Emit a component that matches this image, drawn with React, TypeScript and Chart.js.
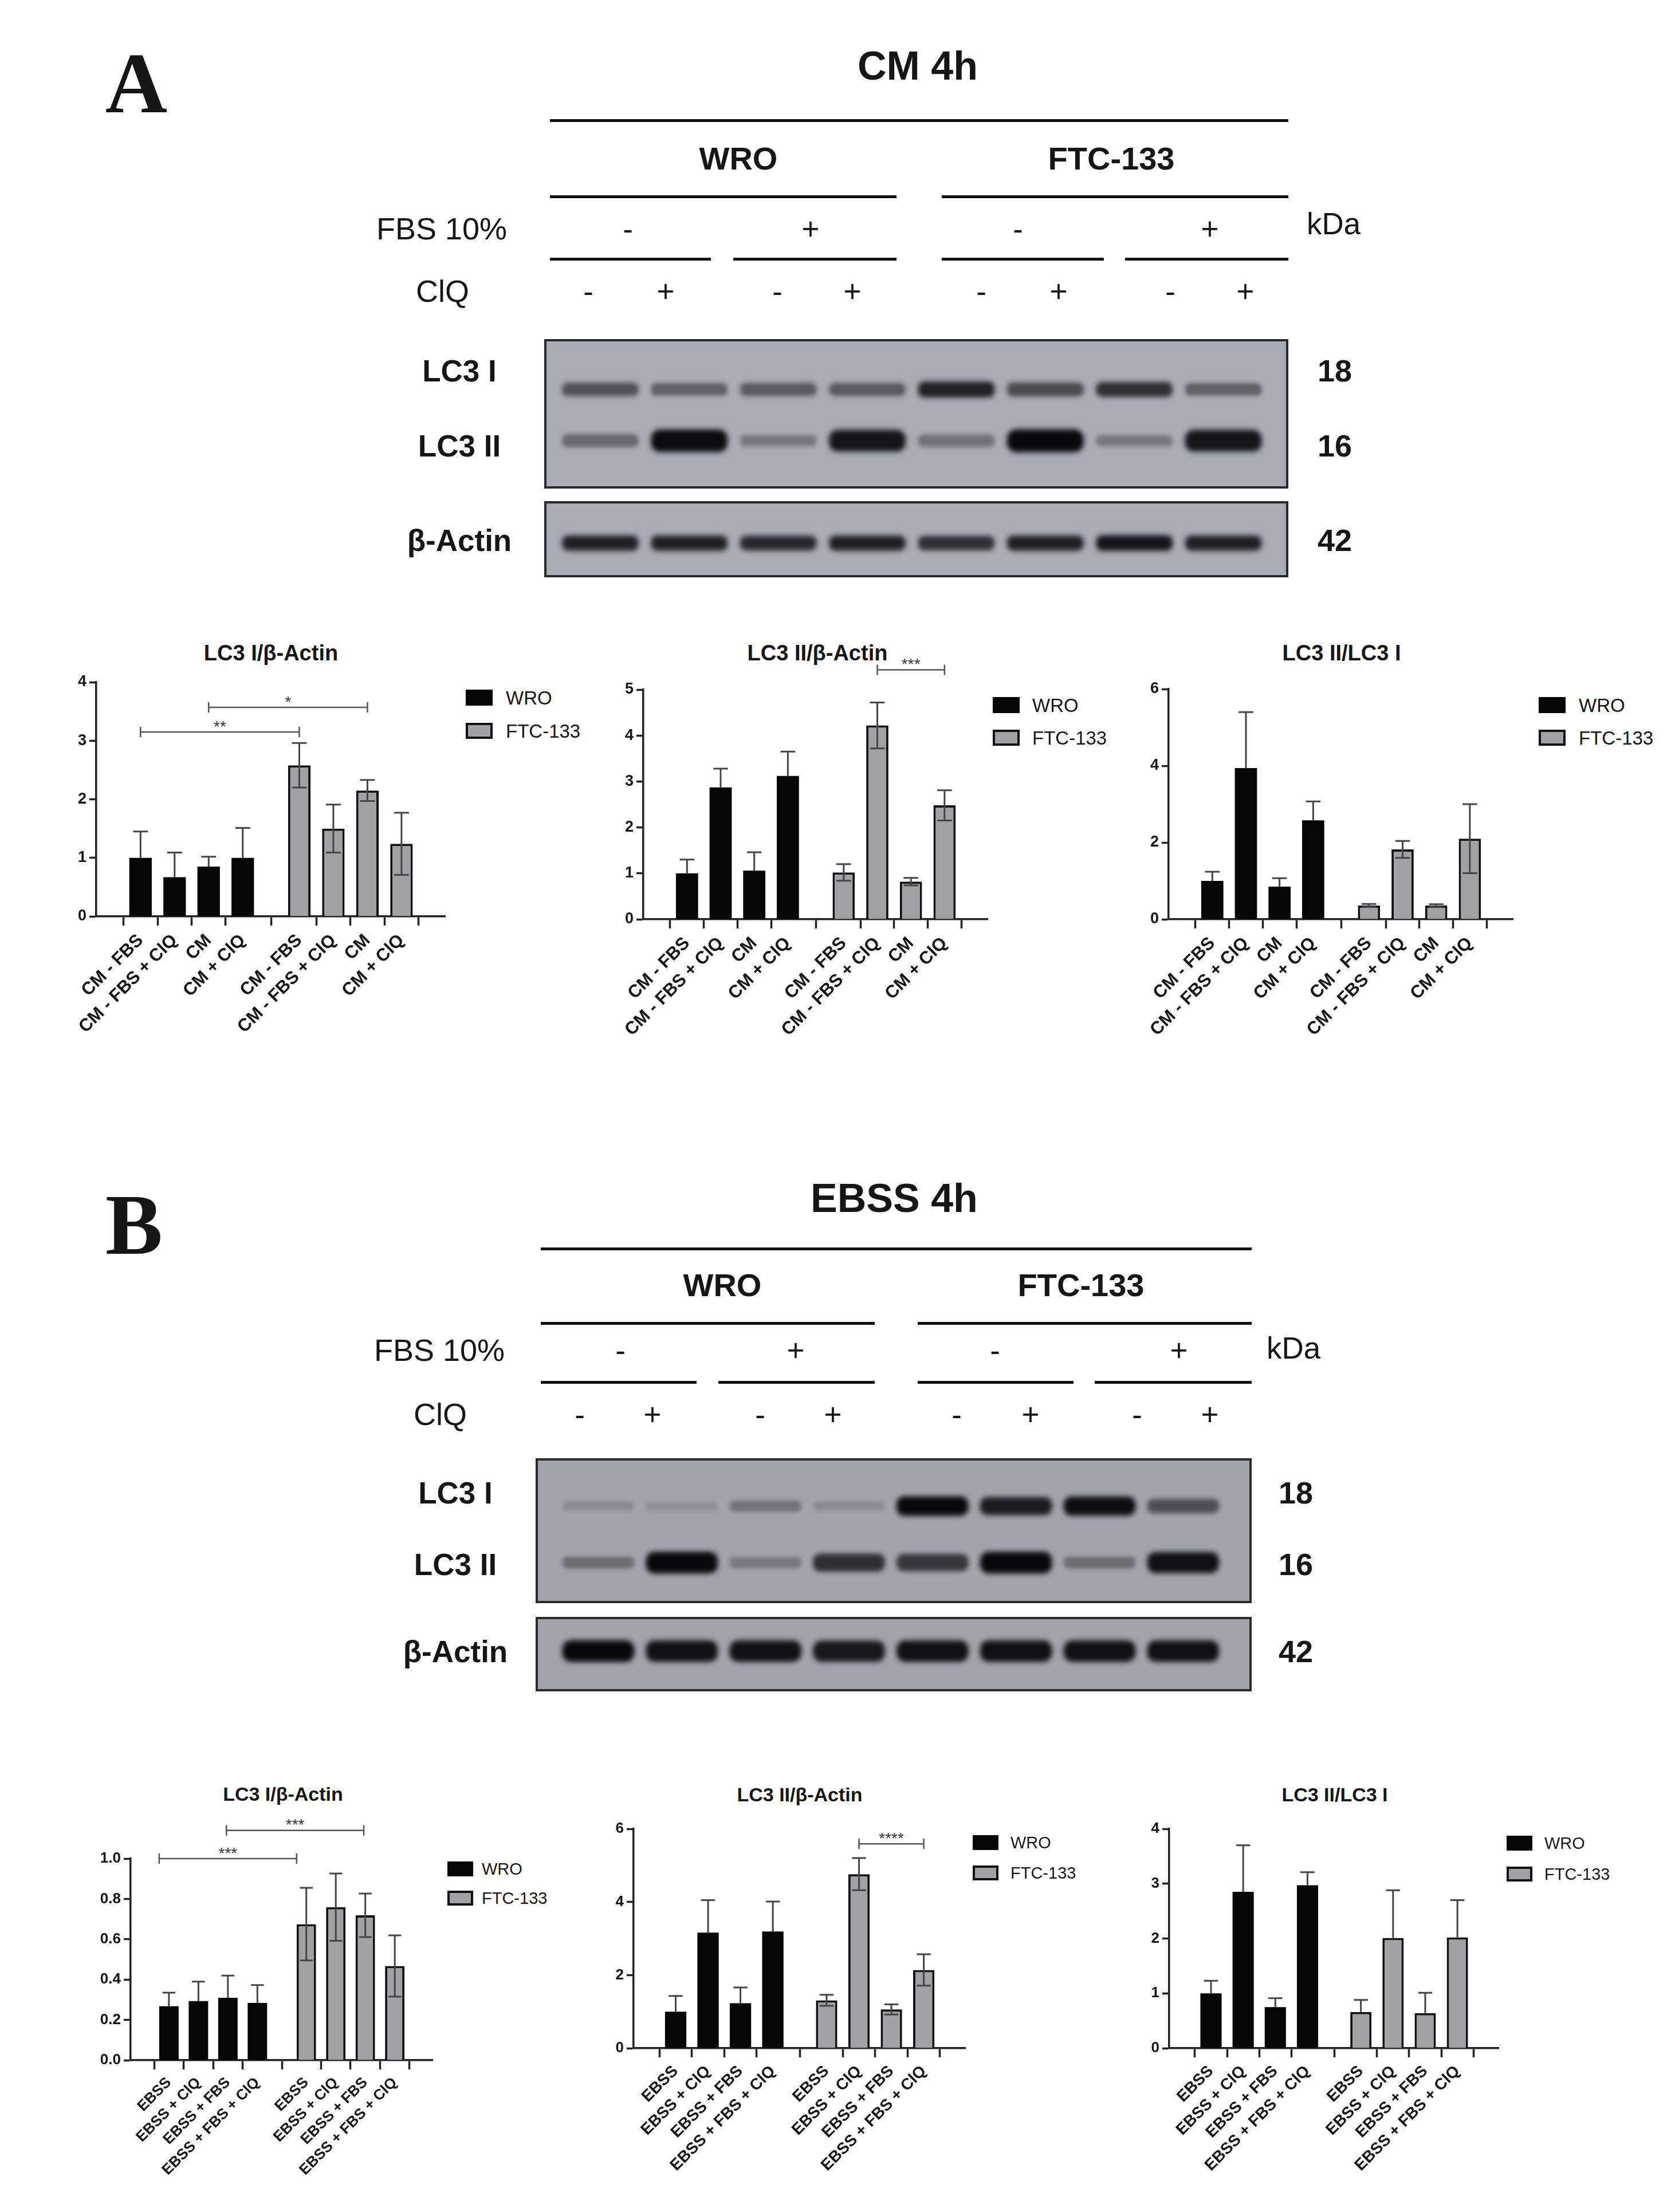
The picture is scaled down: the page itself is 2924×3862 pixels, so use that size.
import { useEffect, useRef } from 'react';
import { Chart, registerables } from 'chart.js';

Chart.register(...registerables);

const SANS = '"Liberation Sans", Arial, sans-serif';
const INK = '#161616';

// ---- text of the blot headers ----
const CELL_LINES = ['WRO', 'FTC-133'];
const FBS_SIGNS = ['-', '+', '-', '+'];
const CLQ_SIGNS = ['-', '+', '-', '+', '-', '+', '-', '+'];
const ROW_LABELS = ['LC3 I', 'LC3 II', 'β-Actin'];
const KDA_MARKS = ['18', '16', '42'];

// ---- band intensities (0 = nothing, 1 = saturated), one value per lane ----
const A_LC3I = [0.55, 0.45, 0.5, 0.5, 0.85, 0.6, 0.75, 0.45];
const A_LC3II = [0.4, 0.98, 0.3, 0.92, 0.35, 1.0, 0.3, 0.92];
const A_ACTIN = [0.85, 0.85, 0.8, 0.85, 0.75, 0.85, 0.92, 0.85];
const B_LC3I = [0.15, 0.12, 0.3, 0.15, 1.0, 0.88, 0.97, 0.55];
const B_LC3II = [0.35, 1.0, 0.28, 0.75, 0.7, 1.0, 0.35, 0.95];
const B_ACTIN = [1.0, 0.95, 0.95, 0.9, 0.95, 0.95, 0.95, 0.95];

// ---- bar chart categories ----
const CM_LABELS = ['CM - FBS', 'CM - FBS + ClQ', 'CM', 'CM + ClQ', 'CM - FBS', 'CM - FBS + ClQ', 'CM', 'CM + ClQ'];
const EBSS_LABELS = ['EBSS', 'EBSS + ClQ', 'EBSS + FBS', 'EBSS + FBS + ClQ', 'EBSS', 'EBSS + ClQ', 'EBSS + FBS', 'EBSS + FBS + ClQ'];

// ---- A: CM 4h ----
const A1_WRO = [1.0, 0.67, 0.85, 1.0];
const A1_WRO_SD = [0.45, 0.42, 0.17, 0.51];
const A1_FTC = [2.58, 1.5, 2.15, 1.24];
const A1_FTC_SD = [0.38, 0.41, 0.18, 0.53];

const A2_WRO = [1.0, 2.87, 1.06, 3.12];
const A2_WRO_SD = [0.3, 0.41, 0.4, 0.53];
const A2_FTC = [1.02, 4.22, 0.82, 2.48];
const A2_FTC_SD = [0.18, 0.5, 0.08, 0.33];

const A3_WRO = [1.0, 3.94, 0.85, 2.58];
const A3_WRO_SD = [0.24, 1.46, 0.22, 0.49];
const A3_FTC = [0.36, 1.82, 0.36, 2.1];
const A3_FTC_SD = [0.04, 0.22, 0.03, 0.9];

// ---- B: EBSS 4h ----
const B1_WRO = [0.268, 0.293, 0.31, 0.284];
const B1_WRO_SD = [0.067, 0.097, 0.11, 0.089];
const B1_FTC = [0.675, 0.759, 0.719, 0.467];
const B1_FTC_SD = [0.18, 0.167, 0.108, 0.152];

const B2_WRO = [1.0, 3.16, 1.23, 3.19];
const B2_WRO_SD = [0.43, 0.89, 0.43, 0.82];
const B2_FTC = [1.31, 4.76, 1.06, 2.14];
const B2_FTC_SD = [0.15, 0.44, 0.14, 0.43];

const B3_WRO = [1.0, 2.85, 0.75, 2.97];
const B3_WRO_SD = [0.23, 0.85, 0.16, 0.24];
const B3_FTC = [0.66, 2.01, 0.64, 2.02];
const B3_FTC_SD = [0.22, 0.87, 0.37, 0.68];

// significance brackets: bar index a -> bar index b at value y
const A1_SIG = [
  { a: 0, b: 4, y: 3.15, text: '**', dx: 0 },
  { a: 2, b: 6, y: 3.57, text: '*', dx: 0 },
];
const A2_SIG = [{ a: 5, b: 7, y: 5.43, text: '***', dx: 0 }];
const B1_SIG = [
  { a: 0, b: 4, y: 1.0, text: '***', dx: -0.33 },
  { a: 2, b: 6, y: 1.14, text: '***', dx: -0.05 },
];
const B2_SIG = [{ a: 5, b: 7, y: 5.59, text: '****', dx: 0 }];

const GROUP_GAP = 0.66;
const pos = (i: number) => i + (i >= 4 ? GROUP_GAP : 0);

function Txt({ x, y, size, bold, anchor = 'center', serif, children }: any) {
  const tx = anchor === 'center' ? '-50%' : anchor === 'right' ? '-100%' : '0';
  return (
    <div
      style={{
        position: 'absolute',
        left: x,
        top: y,
        transform: `translate(${tx}, -50%)`,
        fontFamily: serif ? '"Liberation Serif", "Times New Roman", serif' : SANS,
        fontSize: size,
        fontWeight: bold ? 700 : 400,
        lineHeight: 1,
        whiteSpace: 'nowrap',
        color: INK,
      }}
    >
      {children}
    </div>
  );
}

function Rule({ x1, x2, y }: { x1: number; x2: number; y: number }) {
  return <div style={{ position: 'absolute', left: x1, top: y - 2.5, width: x2 - x1, height: 5, background: '#111' }} />;
}

function Header({ g }: { g: any }) {
  return (
    <>
      <Txt x={g.letterX} y={g.letterY} size={150} bold serif>{g.letter}</Txt>
      <Txt x={g.titleX} y={g.titleY} size={70} bold>{g.title}</Txt>
      <Rule x1={g.line1[0]} x2={g.line1[1]} y={g.line1Y} />
      {CELL_LINES.map((c, i) => (
        <Txt key={c} x={g.cellX[i]} y={g.cellY} size={56} bold>{c}</Txt>
      ))}
      {g.line2.map((l: number[], i: number) => <Rule key={'l2' + i} x1={l[0]} x2={l[1]} y={g.line2Y} />)}
      <Txt x={g.fbsRight} y={g.fbsY} size={54} anchor="right">FBS 10%</Txt>
      {FBS_SIGNS.map((s, i) => (
        <Txt key={'f' + i} x={g.fbsX[i]} y={g.fbsY} size={53}>{s}</Txt>
      ))}
      <Txt x={g.kdaX} y={g.kdaY} size={53} anchor="left">kDa</Txt>
      {g.line3.map((l: number[], i: number) => <Rule key={'l3' + i} x1={l[0]} x2={l[1]} y={g.line3Y} />)}
      <Txt x={g.clqRight} y={g.clqY} size={54} anchor="right">ClQ</Txt>
      {CLQ_SIGNS.map((s, i) => (
        <Txt key={'c' + i} x={g.clqX[i]} y={g.clqY} size={53}>{s}</Txt>
      ))}
      {ROW_LABELS.map((r, i) => (
        <Txt key={r} x={g.rowLabelX} y={g.rowY[i]} size={53} bold>{r}</Txt>
      ))}
      {KDA_MARKS.map((k, i) => (
        <Txt key={k} x={g.kdaNumX} y={g.rowY[i]} size={54} bold>{k}</Txt>
      ))}
    </>
  );
}

interface BandRow {
  values: number[];
  y: number;
  base: number;
  grow: number;
}

function Blot({ box, rows, xMin, xMax, bg }: { box: any; rows: BandRow[]; xMin: number; xMax: number; bg: string }) {
  const ref = useRef<HTMLCanvasElement>(null);
  const w = box.right - box.left;
  const h = box.bottom - box.top;

  useEffect(() => {
    if (!ref.current) return;
    const ctx = ref.current.getContext('2d');
    if (!ctx) return;

    const bands = {
      id: 'bands',
      beforeDatasetsDraw(chart: any) {
        const c = chart.ctx;
        c.save();
        c.fillStyle = bg;
        c.fillRect(0, 0, chart.width, chart.height);
        const xs = chart.scales.x;
        const lane = xs.getPixelForValue(1) - xs.getPixelForValue(0);
        rows.forEach((r, d) => {
          chart.getDatasetMeta(d).data.forEach((pt: any, i: number) => {
            const v = r.values[i];
            const bw = lane * 0.86;
            const bh = r.base + r.grow * v;
            c.filter = `blur(${3 + 2 * v}px)`;
            c.fillStyle = `rgba(8,8,12,${Math.min(1, v)})`;
            c.beginPath();
            if (c.roundRect) c.roundRect(pt.x - bw / 2, pt.y - bh / 2, bw, bh, bh / 2.5);
            else c.ellipse(pt.x, pt.y, bw / 2, bh / 2, 0, 0, Math.PI * 2);
            c.fill();
          });
        });
        c.restore();
      },
      afterDraw(chart: any) {
        const c = chart.ctx;
        c.save();
        c.strokeStyle = '#2a2a2a';
        c.lineWidth = 4;
        c.strokeRect(2, 2, chart.width - 4, chart.height - 4);
        c.restore();
      },
    };

    const chart = new Chart(ctx, {
      type: 'scatter',
      data: {
        datasets: rows.map((r) => ({
          data: r.values.map((_, i) => ({ x: i, y: r.y })),
          pointRadius: 0,
        })),
      },
      options: {
        animation: false,
        responsive: false,
        devicePixelRatio: 1,
        events: [],
        layout: { padding: 0 },
        plugins: { legend: { display: false }, tooltip: { enabled: false } },
        scales: {
          x: { type: 'linear', display: false, min: xMin, max: xMax },
          y: { display: false, min: 0, max: 1, reverse: true },
        },
      },
      plugins: [bands],
    } as any);

    return () => chart.destroy();
  }, []);

  return (
    <canvas
      ref={ref}
      width={w}
      height={h}
      style={{ position: 'absolute', left: box.left, top: box.top, width: w, height: h }}
    />
  );
}

interface BarPanelProps {
  title: string;
  labels: string[];
  wro: number[];
  wroSd: number[];
  ftc: number[];
  ftcSd: number[];
  yMax: number;
  yStep: number;
  decimals?: number;
  brackets?: { a: number; b: number; y: number; text: string; dx: number }[];
  ftcLower?: boolean;
  plot: { left: number; right: number; top: number; bottom: number };
  titlePos: [number, number];
  legend: { boxX: number; textX: number; y1: number; y2: number };
  sizes: { title: number; tick: number; label: number; legend: number; box: [number, number] };
}

function BarPanel(p: BarPanelProps) {
  const ref = useRef<HTMLCanvasElement>(null);
  const Y_AXIS_W = 110;
  const PAD_TOP = 90;
  const PAD_RIGHT = 20;
  const X_AXIS_H = 270;
  const w = p.plot.right - p.plot.left + Y_AXIS_W + PAD_RIGHT;
  const h = p.plot.bottom - p.plot.top + PAD_TOP + X_AXIS_H;

  useEffect(() => {
    if (!ref.current) return;
    const ctx = ref.current.getContext('2d');
    if (!ctx) return;

    const xs = p.labels.map((_, i) => pos(i));
    const series = [
      { mean: p.wro, sd: p.wroSd, lower: false },
      { mean: p.ftc, sd: p.ftcSd, lower: p.ftcLower !== false },
    ];

    const overlay = {
      id: 'overlay',
      afterDatasetsDraw(chart: any) {
        const c = chart.ctx;
        const ys = chart.scales.y;
        const xScale = chart.scales.x;
        c.save();
        c.strokeStyle = '#454545';
        c.lineWidth = 3;
        series.forEach((s, d) => {
          chart.getDatasetMeta(d).data.forEach((bar: any, i: number) => {
            const top = ys.getPixelForValue(s.mean[i] + s.sd[i]);
            const bot = s.lower ? ys.getPixelForValue(s.mean[i] - s.sd[i]) : bar.y;
            const cap = bar.width * 0.33;
            c.beginPath();
            c.moveTo(bar.x, top);
            c.lineTo(bar.x, bot);
            c.moveTo(bar.x - cap, top);
            c.lineTo(bar.x + cap, top);
            if (s.lower) {
              c.moveTo(bar.x - cap, bot);
              c.lineTo(bar.x + cap, bot);
            }
            c.stroke();
          });
        });
        c.strokeStyle = '#555';
        c.lineWidth = 2.5;
        c.fillStyle = '#333';
        c.font = `28px ${SANS}`;
        c.textAlign = 'center';
        c.textBaseline = 'middle';
        (p.brackets || []).forEach((b) => {
          const x1 = xScale.getPixelForValue(pos(b.a) + b.dx);
          const x2 = xScale.getPixelForValue(pos(b.b) + b.dx);
          const y = ys.getPixelForValue(b.y);
          c.beginPath();
          c.moveTo(x1, y);
          c.lineTo(x2, y);
          c.moveTo(x1, y - 9);
          c.lineTo(x1, y + 9);
          c.moveTo(x2, y - 9);
          c.lineTo(x2, y + 9);
          c.stroke();
          c.fillText(b.text, (x1 + x2) / 2, y - 8);
        });
        c.restore();
      },
    };

    const axisGrid = (len: number) => ({
      drawOnChartArea: false,
      drawTicks: true,
      tickLength: len,
      tickWidth: 3.5,
      tickColor: '#222',
    });

    const chart = new Chart(ctx, {
      type: 'bar',
      data: {
        datasets: [
          {
            label: 'WRO',
            data: p.wro.map((v, i) => ({ x: xs[i], y: v })),
            backgroundColor: '#060606',
            borderWidth: 0,
            grouped: false,
            barPercentage: 0.66,
            categoryPercentage: 1,
          },
          {
            label: 'FTC-133',
            data: p.ftc.map((v, i) => ({ x: xs[i + 4], y: v })),
            backgroundColor: '#a1a1a5',
            borderColor: '#111',
            borderWidth: 4,
            grouped: false,
            barPercentage: 0.66,
            categoryPercentage: 1,
          },
        ],
      },
      options: {
        animation: false,
        responsive: false,
        devicePixelRatio: 1,
        events: [],
        layout: { padding: { top: PAD_TOP, right: PAD_RIGHT, left: 0, bottom: 0 } },
        plugins: { legend: { display: false }, tooltip: { enabled: false } },
        scales: {
          x: {
            type: 'linear',
            min: -0.66,
            max: 7 + GROUP_GAP + 0.64,
            afterBuildTicks: (s: any) => {
              s.ticks = xs.map((v) => ({ value: v }));
            },
            afterFit: (s: any) => {
              s.height = X_AXIS_H;
              s.paddingLeft = 0;
              s.paddingRight = 0;
            },
            grid: axisGrid(16),
            border: { display: true, width: 3.5, color: '#222' },
            ticks: {
              autoSkip: false,
              maxRotation: 45,
              minRotation: 45,
              padding: 8,
              color: INK,
              font: { family: SANS, size: p.sizes.label, weight: 'bold' },
              callback: (_v: any, i: number) => p.labels[i],
            },
          },
          y: {
            min: 0,
            max: p.yMax,
            afterFit: (s: any) => {
              s.width = Y_AXIS_W;
            },
            grid: axisGrid(12),
            border: { display: true, width: 3.5, color: '#222' },
            ticks: {
              stepSize: p.yStep,
              padding: 5,
              color: INK,
              font: { family: SANS, size: p.sizes.tick, weight: 'bold' },
              callback: (v: any) => Number(v).toFixed(p.decimals || 0),
            },
          },
        },
      },
      plugins: [overlay],
    } as any);

    return () => chart.destroy();
  }, []);

  const [bw, bh] = p.sizes.box;
  return (
    <>
      <Txt x={p.titlePos[0]} y={p.titlePos[1]} size={p.sizes.title} bold>{p.title}</Txt>
      <canvas
        ref={ref}
        width={w}
        height={h}
        style={{ position: 'absolute', left: p.plot.left - Y_AXIS_W, top: p.plot.top - PAD_TOP, width: w, height: h }}
      />
      <div style={{ position: 'absolute', left: p.legend.boxX, top: p.legend.y1 - bh / 2, width: bw, height: bh, background: '#060606' }} />
      <div
        style={{
          position: 'absolute',
          left: p.legend.boxX,
          top: p.legend.y2 - bh / 2,
          width: bw,
          height: bh,
          background: '#a1a1a5',
          border: '4px solid #111',
          boxSizing: 'border-box',
        }}
      />
      <Txt x={p.legend.textX} y={p.legend.y1} size={p.sizes.legend} anchor="left">WRO</Txt>
      <Txt x={p.legend.textX} y={p.legend.y2} size={p.sizes.legend} anchor="left">FTC-133</Txt>
    </>
  );
}

const HEAD_A = {
  letter: 'A', letterX: 238, letterY: 145,
  title: 'CM 4h', titleX: 1602, titleY: 115,
  line1: [960, 2249], line1Y: 210,
  cellX: [1289, 1940], cellY: 277,
  line2: [[960, 1565], [1644, 2249]], line2Y: 343,
  fbsRight: 885, fbsY: 399, fbsX: [1096, 1415, 1777, 2112],
  kdaX: 2281, kdaY: 390,
  line3: [[960, 1241], [1280, 1565], [1644, 1927], [1964, 2249]], line3Y: 452,
  clqRight: 819, clqY: 508, clqX: [1027, 1162, 1357, 1488, 1713, 1848, 2043, 2174],
  rowLabelX: 802, rowY: [647, 778, 943], kdaNumX: 2330,
};

const HEAD_B = {
  letter: 'B', letterX: 234, letterY: 2138,
  title: 'EBSS 4h', titleX: 1561, titleY: 2092,
  line1: [944, 2185], line1Y: 2180,
  cellX: [1261, 1887], cellY: 2244,
  line2: [[944, 1527], [1602, 2185]], line2Y: 2310,
  fbsRight: 881, fbsY: 2357, fbsX: [1083, 1389, 1737, 2058],
  kdaX: 2211, kdaY: 2353,
  line3: [[944, 1216], [1254, 1527], [1602, 1874], [1911, 2185]], line3Y: 2413,
  clqRight: 815, clqY: 2469, clqX: [1012, 1139, 1327, 1454, 1670, 1799, 1985, 2112],
  rowLabelX: 795, rowY: [2606, 2731, 2883], kdaNumX: 2262,
};

const SIZES_A = { title: 38, tick: 27, label: 31, legend: 33, box: [47, 28] as [number, number] };
const SIZES_B1 = { title: 34, tick: 26, label: 26, legend: 29, box: [45, 26] as [number, number] };
const SIZES_B = { title: 34, tick: 26, label: 28, legend: 29, box: [45, 26] as [number, number] };

export default function App() {
  return (
    <div style={{ position: 'absolute', left: 0, top: 0, width: 2924, height: 3862, background: '#fff', overflow: 'hidden' }}>
      <Header g={HEAD_A} />
      <Blot
        box={{ left: 950, right: 2249, top: 592, bottom: 853 }}
        xMin={-0.63}
        xMax={7.73}
        bg="#a8acb4"
        rows={[
          { values: A_LC3I, y: 0.337, base: 16, grow: 14 },
          { values: A_LC3II, y: 0.68, base: 12, grow: 28 },
        ]}
      />
      <Blot
        box={{ left: 950, right: 2249, top: 875, bottom: 1008 }}
        xMin={-0.63}
        xMax={7.73}
        bg="#a8acb4"
        rows={[{ values: A_ACTIN, y: 0.55, base: 18, grow: 10 }]}
      />

      <BarPanel
        title="LC3 I/β-Actin"
        labels={CM_LABELS}
        wro={A1_WRO} wroSd={A1_WRO_SD} ftc={A1_FTC} ftcSd={A1_FTC_SD}
        yMax={4} yStep={1}
        brackets={A1_SIG}
        plot={{ left: 168, right: 777, top: 1191, bottom: 1600 }}
        titlePos={[473, 1140]}
        legend={{ boxX: 813, textX: 883, y1: 1218, y2: 1276 }}
        sizes={SIZES_A}
      />
      <BarPanel
        title="LC3 II/β-Actin"
        labels={CM_LABELS}
        wro={A2_WRO} wroSd={A2_WRO_SD} ftc={A2_FTC} ftcSd={A2_FTC_SD}
        yMax={5} yStep={1}
        brackets={A2_SIG}
        plot={{ left: 1123, right: 1724, top: 1204, bottom: 1605 }}
        titlePos={[1427, 1140]}
        legend={{ boxX: 1733, textX: 1802, y1: 1231, y2: 1288 }}
        sizes={SIZES_A}
      />
      <BarPanel
        title="LC3 II/LC3 I"
        labels={CM_LABELS}
        wro={A3_WRO} wroSd={A3_WRO_SD} ftc={A3_FTC} ftcSd={A3_FTC_SD}
        yMax={6} yStep={2}
        plot={{ left: 2040, right: 2641, top: 1203, bottom: 1605 }}
        titlePos={[2342, 1140]}
        legend={{ boxX: 2686, textX: 2756, y1: 1231, y2: 1288 }}
        sizes={SIZES_A}
      />

      <Header g={HEAD_B} />
      <Blot
        box={{ left: 935, right: 2185, top: 2546, bottom: 2799 }}
        xMin={-0.75}
        xMax={7.82}
        bg="#a1a4ab"
        rows={[
          { values: B_LC3I, y: 0.33, base: 14, grow: 20 },
          { values: B_LC3II, y: 0.72, base: 12, grow: 26 },
        ]}
      />
      <Blot
        box={{ left: 935, right: 2185, top: 2823, bottom: 2953 }}
        xMin={-0.75}
        xMax={7.82}
        bg="#a1a4ab"
        rows={[{ values: B_ACTIN, y: 0.46, base: 26, grow: 12 }]}
      />

      <BarPanel
        title="LC3 I/β-Actin"
        labels={EBSS_LABELS}
        wro={B1_WRO} wroSd={B1_WRO_SD} ftc={B1_FTC} ftcSd={B1_FTC_SD}
        yMax={1} yStep={0.2} decimals={1}
        brackets={B1_SIG}
        plot={{ left: 228, right: 755, top: 3245, bottom: 3597 }}
        titlePos={[494, 3132]}
        legend={{ boxX: 781, textX: 841, y1: 3263, y2: 3314 }}
        sizes={SIZES_B1}
      />
      <BarPanel
        title="LC3 II/β-Actin"
        labels={EBSS_LABELS}
        wro={B2_WRO} wroSd={B2_WRO_SD} ftc={B2_FTC} ftcSd={B2_FTC_SD}
        yMax={6} yStep={2}
        brackets={B2_SIG}
        plot={{ left: 1106, right: 1685, top: 3193, bottom: 3576 }}
        titlePos={[1396, 3133]}
        legend={{ boxX: 1698, textX: 1764, y1: 3217, y2: 3270 }}
        sizes={SIZES_B}
      />
      <BarPanel
        title="LC3 II/LC3 I"
        labels={EBSS_LABELS}
        wro={B3_WRO} wroSd={B3_WRO_SD} ftc={B3_FTC} ftcSd={B3_FTC_SD}
        yMax={4} yStep={1}
        ftcLower={false}
        plot={{ left: 2041, right: 2616, top: 3193, bottom: 3576 }}
        titlePos={[2330, 3133]}
        legend={{ boxX: 2630, textX: 2696, y1: 3218, y2: 3272 }}
        sizes={SIZES_B}
      />
    </div>
  );
}
